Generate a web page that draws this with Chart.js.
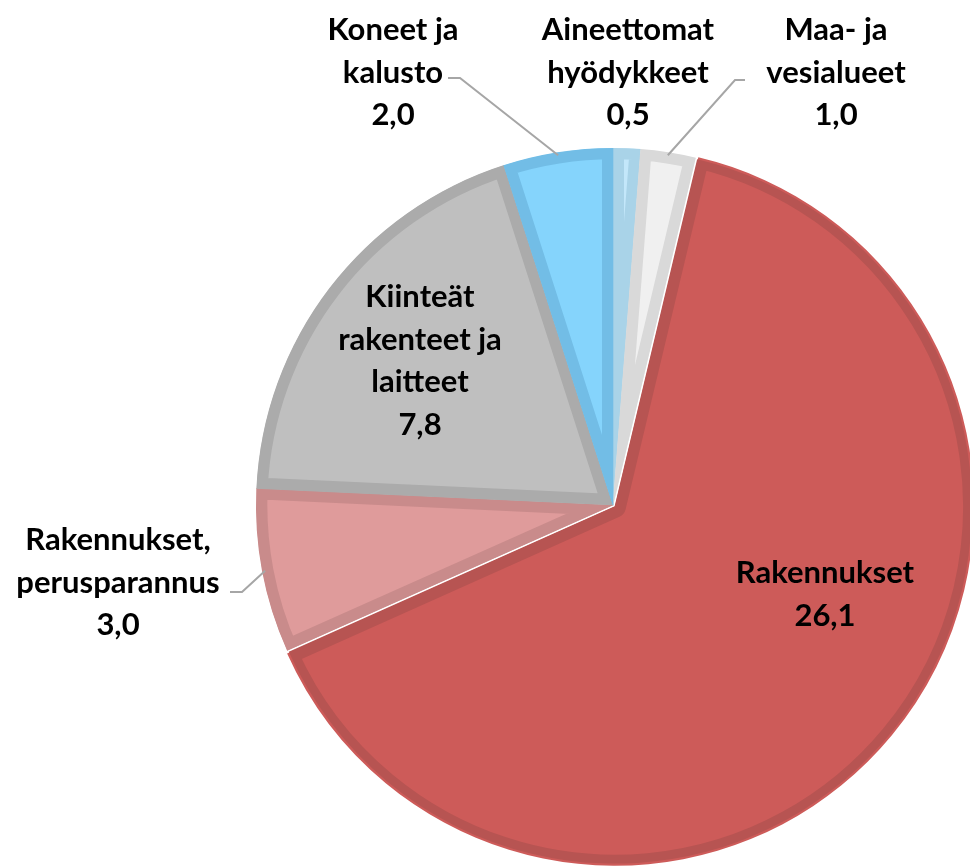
<!DOCTYPE html>
<html>
<head>
<meta charset="utf-8">
<script src="https://cdn.jsdelivr.net/npm/chart.js@4/dist/chart.umd.min.js"></script>
<style>
  html, body { margin: 0; padding: 0; background: #fff; overflow: hidden; }
  #wrap { position: absolute; left: 0; top: 0; width: 1226px; height: 1010px; }
</style>
</head>
<body>
<div id="wrap"><canvas id="pie" width="1226" height="1010"></canvas></div>
<script>
// categories in drawing order, clockwise from 12 o'clock
const categories = ['Aineettomat hyödykkeet', 'Maa- ja vesialueet', 'Rakennukset', 'Rakennukset, perusparannus', 'Kiinteät rakenteet ja laitteet', 'Koneet ja kalusto'];
const values = [0.5, 1.0, 26.1, 3.0, 7.8, 2.0];
const labelLines = [
  ['Aineettomat', 'hyödykkeet'],
  ['Maa- ja', 'vesialueet'],
  ['Rakennukset'],
  ['Rakennukset,', 'perusparannus'],
  ['Kiinteät', 'rakenteet ja', 'laitteet'],
  ['Koneet ja', 'kalusto']
];
const fills = ['#c3e7fa', '#f0f0f0', '#cd5b59', '#df9b9b', '#bfbfbf', '#85d4fc'];
const borders = ['#a9d3e8', '#d9d9d9', '#b75452', '#c98b8b', '#ababab', '#72bde6'];

// label anchor (center x, first line y) and leader elbow, per slice
const labelPos = [
  { x: 628, y: 30 },
  { x: 836, y: 30, elbow: [[745, 80], [735, 80]] },
  { x: 825, y: 573 },
  { x: 118, y: 540, elbow: [[230, 592], [242, 592]] },
  { x: 420, y: 297 },
  { x: 393, y: 30, elbow: [[448, 78], [460, 78]] }
];

function fmt(v) {
  return v.toFixed(1).replace('.', ',');
}

const labelPlugin = {
  id: 'pieLabels',
  afterDatasetsDraw(chart) {
    const ctx = chart.ctx;
    const arcs = chart.getDatasetMeta(0).data;
    ctx.save();
    // leader lines
    ctx.strokeStyle = '#a6a6a6';
    ctx.lineWidth = 2;
    arcs.forEach(function(arc, i) {
      const p = labelPos[i];
      if (!p.elbow) return;
      const mid = (arc.startAngle + arc.endAngle) / 2;
      const ex = arc.x + Math.cos(mid) * (arc.outerRadius - 3);
      const ey = arc.y + Math.sin(mid) * (arc.outerRadius - 3);
      ctx.beginPath();
      ctx.moveTo(p.elbow[0][0], p.elbow[0][1]);
      ctx.lineTo(p.elbow[1][0], p.elbow[1][1]);
      ctx.lineTo(ex, ey);
      ctx.stroke();
    });
    // texts
    ctx.fillStyle = '#000';
    ctx.font = 'bold 31px Lato';
    ctx.textAlign = 'center';
    ctx.textBaseline = 'middle';
    arcs.forEach(function(arc, i) {
      const p = labelPos[i];
      const lines = labelLines[i].concat([fmt(values[i])]);
      lines.forEach(function(t, k) {
        ctx.fillText(t, p.x, p.y + k * 42.5);
      });
    });
    ctx.restore();
  }
};

new Chart(document.getElementById('pie'), {
  type: 'pie',
  data: {
    labels: categories,
    datasets: [{
      data: values,
      backgroundColor: fills,
      borderColor: borders,
      borderWidth: 11,
      borderAlign: 'inner',
      offset: [0, 0, 10, 0, 0, 0]
    }]
  },
  options: {
    responsive: false,
    animation: false,
    radius: 357,
    layout: { padding: 0 },
    plugins: {
      legend: { display: false },
      tooltip: { enabled: false }
    }
  },
  plugins: [labelPlugin]
});
</script>
</body>
</html>
